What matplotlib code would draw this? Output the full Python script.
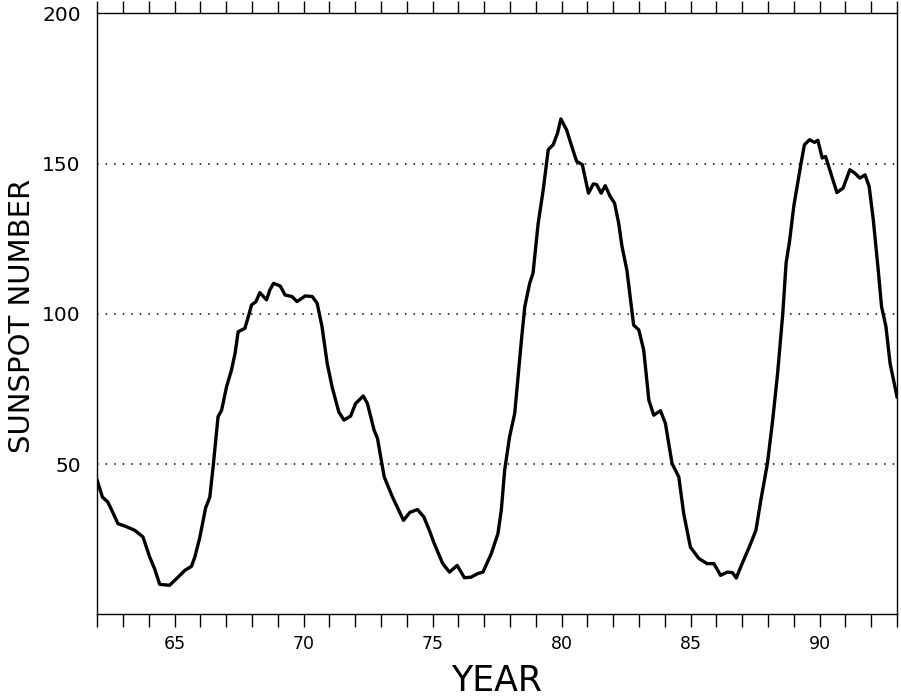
import matplotlib
matplotlib.use('Agg')
import matplotlib.pyplot as plt
from matplotlib.ticker import MultipleLocator, FixedLocator

# Smoothed monthly sunspot number, decimal year (19xx) vs value
years = [
    62.0, 62.2, 62.4, 62.5, 62.8, 63.1, 63.45, 63.77, 64.03, 64.22, 64.42, 64.8,
    65.07, 65.4, 65.65, 65.78, 65.97, 66.2, 66.36, 66.5, 66.68, 66.82, 67.01, 67.2,
    67.34, 67.46, 67.72, 67.89, 67.98, 68.15, 68.3, 68.56, 68.69, 68.83, 69.09, 69.28,
    69.55, 69.74, 70.06, 70.33, 70.52, 70.71, 70.91, 71.1, 71.36, 71.56, 71.82, 72.01,
    72.31, 72.47, 72.73, 72.86, 73.12, 73.44, 73.87, 74.12, 74.41, 74.66, 74.87, 75.06,
    75.39, 75.65, 75.95, 76.23, 76.49, 76.75, 76.95, 77.27, 77.53, 77.66, 77.79, 77.98,
    78.18, 78.31, 78.44, 78.57, 78.76, 78.89, 79.09, 79.28, 79.48, 79.67, 79.84, 79.97,
    80.19, 80.39, 80.58, 80.8, 81.04, 81.23, 81.36, 81.53, 81.69, 81.88, 82.05, 82.21,
    82.34, 82.53, 82.66, 82.79, 82.99, 83.18, 83.38, 83.57, 83.83, 84.02, 84.28, 84.54,
    84.73, 84.99, 85.32, 85.64, 85.9, 86.16, 86.42, 86.62, 86.77, 86.94, 87.27, 87.53,
    87.72, 87.98, 88.18, 88.37, 88.57, 88.7, 88.83, 89.0, 89.15, 89.28, 89.41, 89.61,
    89.8, 89.93, 90.1, 90.23, 90.39, 90.67, 90.91, 91.17, 91.36, 91.56, 91.76, 91.92,
    92.08, 92.27, 92.4, 92.57, 92.73, 92.92, 93.0,
]
sunspots = [
    44.5, 39.0, 37.5, 35.8, 30.2, 29.3, 28.0, 25.8, 19.1, 15.2, 10.0, 9.7,
    11.9, 14.7, 16.0, 19.1, 25.5, 35.5, 39.0, 50.0, 65.8, 68.0, 75.8, 81.3,
    86.9, 94.1, 95.2, 100.2, 103.0, 104.1, 107.1, 104.7, 108.0, 110.2, 109.3, 106.3,
    105.8, 104.1, 106.0, 105.8, 103.6, 95.8, 83.6, 75.8, 67.4, 64.7, 66.0, 70.2,
    72.7, 70.2, 61.3, 58.6, 45.8, 39.1, 31.3, 34.0, 34.9, 32.4, 28.0, 23.6,
    16.9, 14.1, 16.3, 12.2, 12.4, 13.6, 14.1, 20.2, 26.9, 34.7, 48.0, 59.1,
    66.9, 79.1, 91.3, 102.4, 110.2, 113.6, 130.2, 141.0, 154.7, 156.3, 160.2, 164.9,
    161.3, 155.8, 150.8, 149.7, 140.2, 143.3, 143.0, 140.2, 142.7, 139.1, 136.9, 130.2,
    122.4, 114.5, 105.5, 96.3, 94.7, 88.0, 71.3, 66.3, 67.8, 63.6, 50.2, 45.8,
    33.6, 22.4, 18.6, 16.9, 16.9, 13.0, 14.1, 13.9, 12.1, 15.8, 22.4, 28.0,
    38.0, 50.5, 64.7, 80.2, 100.0, 117.0, 124.0, 136.0, 143.6, 150.2, 156.3, 158.0,
    157.1, 157.8, 151.9, 152.4, 148.0, 140.4, 141.9, 148.0, 146.9, 145.2, 146.3, 142.4,
    131.3, 114.7, 102.4, 95.8, 83.6, 75.8, 72.4,
]

x_labels = [65, 70, 75, 80, 85, 90]
y_labels = [50, 100, 150, 200]
grid_levels = [50, 100, 150]

fig = plt.figure(figsize=(9.01, 6.99), dpi=100)
ax = fig.add_axes([0.108, 0.121, 0.8876, 0.8597])

for level in grid_levels:
    ax.axhline(level, color='black', lw=1.1, ls=(0, (1, 4.6)), zorder=1)

ax.plot(years, sunspots, color='black', lw=2.4, solid_joinstyle='round', zorder=3)

ax.set_xlim(62, 93)
ax.set_ylim(0, 200)

ax.xaxis.set_major_locator(FixedLocator(x_labels))
ax.xaxis.set_minor_locator(MultipleLocator(1))
ax.tick_params(axis='x', which='both', direction='out', length=9, width=1,
               top=True, bottom=True, labeltop=False, labelsize=12.5, pad=5.5)
ax.yaxis.set_major_locator(FixedLocator(y_labels))
ax.tick_params(axis='y', which='both', length=0, labelsize=14.5, pad=12)

for spine in ax.spines.values():
    spine.set_linewidth(1.0)

# axis titles placed in figure pixels so they sit where the layout wants them
W, H = 901, 699
fig.text(497 / W, 1 - 681 / H, 'YEAR', fontsize=25, ha='center', va='center')
fig.text(22 / W, 1 - 316 / H, 'SUNSPOT NUMBER', fontsize=21, rotation=90,
         ha='center', va='center')

fig.savefig('out.png', dpi=100)
